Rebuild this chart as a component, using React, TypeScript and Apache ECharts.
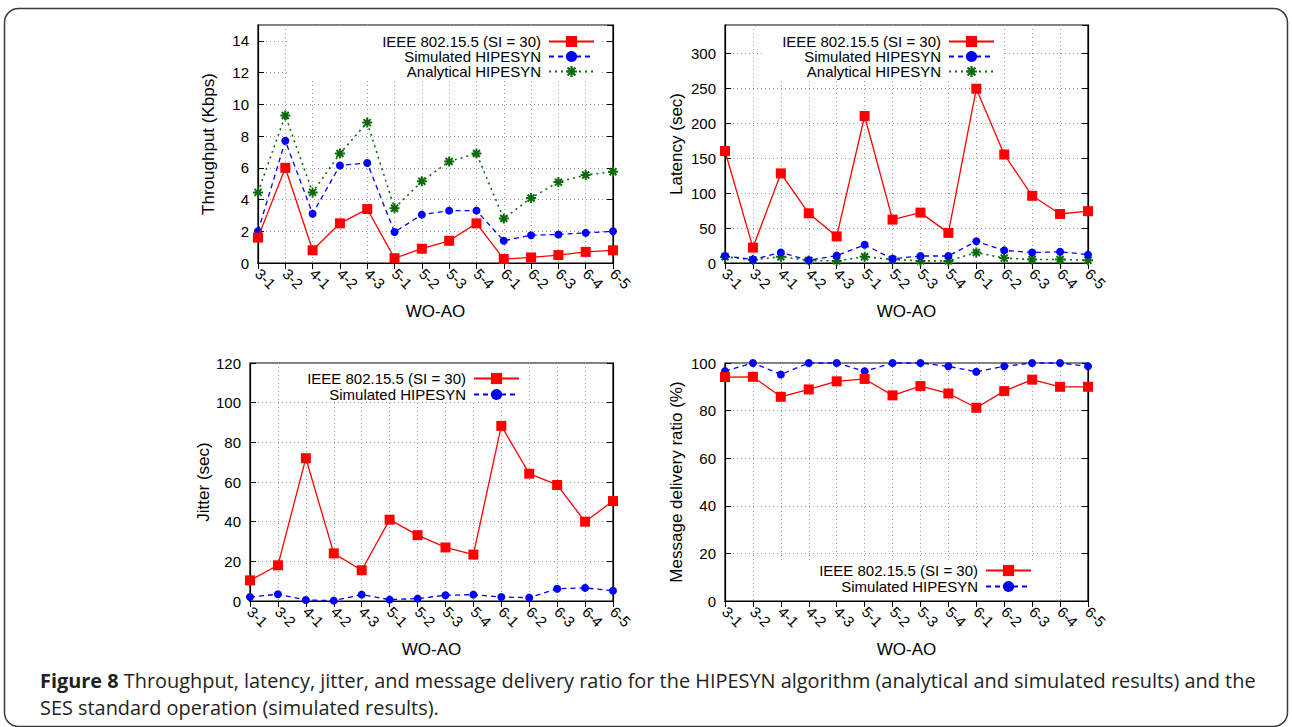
import React, { useEffect, useRef } from 'react';
import * as echarts from 'echarts';

const categories = ['3-1', '3-2', '4-1', '4-2', '4-3', '5-1', '5-2', '5-3', '5-4', '6-1', '6-2', '6-3', '6-4', '6-5'];

const throughputIEEE = [1.6, 6.0, 0.8, 2.5, 3.4, 0.3, 0.9, 1.4, 2.5, 0.25, 0.35, 0.5, 0.7, 0.8];
const throughputSim = [2.0, 7.7, 3.1, 6.15, 6.3, 1.95, 3.05, 3.3, 3.3, 1.4, 1.75, 1.8, 1.9, 2.0];
const throughputAna = [4.45, 9.3, 4.45, 6.9, 8.85, 3.45, 5.15, 6.4, 6.9, 2.8, 4.1, 5.1, 5.55, 5.75];

const latencyIEEE = [160, 22, 128, 71, 38, 210, 62, 72, 43, 249, 155, 96, 70, 74];
const latencySim = [10, 5, 15, 4, 10.5, 26, 6, 10, 10, 31, 18, 15, 16, 12];
const latencyAna = [9, 4.5, 9, 3.5, 3, 9, 5, 3, 3, 15, 7, 5, 5, 4];

const jitterIEEE = [10.4, 18, 72, 24, 15.5, 41, 33.2, 27, 23.4, 88.3, 64.2, 58.5, 40, 50.4];
const jitterSim = [2, 3.4, 0.5, 0.2, 3.2, 0.7, 1.2, 2.9, 3.2, 2, 1.7, 6.2, 6.6, 5.2];

const mdrIEEE = [94.1, 94.2, 85.8, 88.9, 92.3, 93.3, 86.4, 90.3, 87.2, 81.2, 88.2, 93, 90, 90];
const mdrSim = [96.6, 100, 95.2, 100, 100, 96.5, 100, 100, 98.6, 96.3, 98.6, 100, 100, 98.6];

const NAME_IEEE = 'IEEE 802.15.5 (SI = 30)';
const NAME_SIM = 'Simulated HIPESYN';
const NAME_ANA = 'Analytical HIPESYN';

const captionBold = 'Figure 8';
const captionLine1 = ' Throughput, latency, jitter, and message delivery ratio for the HIPESYN algorithm (analytical and simulated results) and the';
const captionLine2 = 'SES standard operation (simulated results).';

const FONT = 'Liberation Sans, Arial, sans-serif';
const CAP_FONT = 'Open Sans, sans-serif';
const ASTERISK =
  'path://M-1,-5L1,-5L1,5L-1,5Z M-5,-1L5,-1L5,1L-5,1Z M-2.8,-4.2L4.2,2.8L2.8,4.2L-4.2,-2.8Z M2.8,-4.2L4.2,-2.8L-2.8,4.2L-4.2,2.8Z';

type Panel = {
  left: number; right: number; top: number; bottom: number;
  max: number; interval: number; yName: string; nameGap: number;
  series: { name: string; data: number[] }[];
  legend: { rows: number[]; right: number };
  box: [number, number, number, number];
};

const panels: Panel[] = [
  {
    left: 258, right: 679, top: 25, bottom: 464, max: 15, interval: 2, yName: 'Throughput (Kbps)', nameGap: 41,
    series: [
      { name: NAME_IEEE, data: throughputIEEE },
      { name: NAME_SIM, data: throughputSim },
      { name: NAME_ANA, data: throughputAna },
    ],
    legend: { rows: [41, 56, 71], right: 697 },
    box: [290, 26, 312, 54],
  },
  {
    left: 725, right: 204, top: 25, bottom: 464, max: 340, interval: 50, yName: 'Latency (sec)', nameGap: 40,
    series: [
      { name: NAME_IEEE, data: latencyIEEE },
      { name: NAME_SIM, data: latencySim },
      { name: NAME_ANA, data: latencyAna },
    ],
    legend: { rows: [41, 56, 71], right: 1292 - 995 },
    box: [765, 26, 237, 54],
  },
  {
    left: 250, right: 679, top: 363, bottom: 126, max: 120, interval: 20, yName: 'Jitter (sec)', nameGap: 36,
    series: [
      { name: NAME_IEEE, data: jitterIEEE },
      { name: NAME_SIM, data: jitterSim },
    ],
    legend: { rows: [378, 394], right: 1292 - 520 },
    box: [290, 364, 236, 38],
  },
  {
    left: 725, right: 204, top: 363, bottom: 126, max: 100, interval: 20, yName: 'Message delivery ratio (%)', nameGap: 40,
    series: [
      { name: NAME_IEEE, data: mdrIEEE },
      { name: NAME_SIM, data: mdrSim },
    ],
    legend: { rows: [570, 586], right: 1292 - 1032 },
    box: [765, 560, 280, 40],
  },
];

const styleFor = (name: string) => {
  if (name === NAME_IEEE) {
    return { color: '#ff0000', symbol: 'rect', symbolSize: 10, lineStyle: { color: '#ff0000', width: 1.3, type: 'solid' } };
  }
  if (name === NAME_SIM) {
    return { color: '#0000ff', symbol: 'circle', symbolSize: 8, lineStyle: { color: '#0000ff', width: 1.3, type: [5, 4] } };
  }
  return { color: '#0b6b0b', symbol: ASTERISK, symbolSize: 10, lineStyle: { color: '#0b6b0b', width: 1.6, type: [2, 4] } };
};

export default function App() {
  const ref = useRef<HTMLDivElement>(null);
  useEffect(() => {
    document.body.style.margin = '0';
    if (!ref.current) return;
    const chart = echarts.init(ref.current, undefined, { renderer: 'svg' });

    const grid: any[] = [];
    const xAxis: any[] = [];
    const yAxis: any[] = [];
    const series: any[] = [];
    const legend: any[] = [];
    const graphic: any[] = [];

    panels.forEach((p, i) => {
      grid.push({ left: p.left, right: p.right, top: p.top, bottom: p.bottom, show: true, borderColor: '#000', borderWidth: 1.2, backgroundColor: 'transparent' });
      xAxis.push({
        type: 'category', gridIndex: i, data: categories, boundaryGap: false, position: 'bottom',
        name: 'WO-AO', nameLocation: 'middle', nameGap: 40,
        nameTextStyle: { fontSize: 17, color: '#000', fontFamily: FONT },
        axisLine: { lineStyle: { color: '#000', width: 1.2 } },
        axisTick: { show: true, inside: false, length: 6, alignWithLabel: true, lineStyle: { color: '#000' } },
        axisLabel: { rotate: -45, fontSize: 15, color: '#000', fontFamily: FONT, margin: 8, interval: 0 },
        splitLine: { show: true, lineStyle: { color: '#999', type: [1, 3], width: 1 } },
      });
      xAxis.push({
        type: 'category', gridIndex: i, data: categories, boundaryGap: false, position: 'top',
        axisLine: { lineStyle: { color: '#000', width: 1.2 } },
        axisTick: { show: true, inside: true, length: 5, lineStyle: { color: '#000' } },
        axisLabel: { show: false },
        splitLine: { show: false },
      });
      yAxis.push({
        type: 'value', gridIndex: i, min: 0, max: p.max, interval: p.interval, position: 'left',
        name: p.yName, nameLocation: 'middle', nameGap: p.nameGap,
        nameTextStyle: { fontSize: 17, color: '#000', fontFamily: FONT },
        axisLine: { show: true, lineStyle: { color: '#000', width: 1.2 } },
        axisTick: { show: true, inside: true, length: 6, lineStyle: { color: '#000' } },
        axisLabel: { fontSize: 15, color: '#000', fontFamily: FONT, margin: 9, showMaxLabel: p.max % p.interval === 0 },
        splitLine: { show: true, lineStyle: { color: '#999', type: [1, 3], width: 1 } },
      });
      yAxis.push({
        type: 'value', gridIndex: i, min: 0, max: p.max, interval: p.interval, position: 'right',
        axisLine: { show: true, lineStyle: { color: '#000', width: 1.2 } },
        axisTick: { show: true, inside: true, length: 6, lineStyle: { color: '#000' } },
        axisLabel: { show: false },
        splitLine: { show: false },
      });
      p.series.forEach((s, k) => {
        const st = styleFor(s.name);
        series.push({
          type: 'line', name: s.name, data: s.data, xAxisIndex: i * 2, yAxisIndex: i * 2,
          symbol: st.symbol, symbolSize: st.symbolSize, showAllSymbol: true,
          itemStyle: { color: st.color }, lineStyle: st.lineStyle, z: 3 + (p.series.length - k),
          clip: false,
        });
        legend.push({
          data: [s.name], orient: 'horizontal', align: 'right', right: p.legend.right,
          top: p.legend.rows[k] - 7, itemWidth: 45, itemHeight: 14, padding: 0,
          selectedMode: false,
          textStyle: { fontSize: 15, color: '#000', fontFamily: FONT, padding: [0, 3, 0, 0] },
        });
      });
      graphic.push({
        type: 'rect', z: 1, silent: true,
        shape: { x: p.box[0], y: p.box[1], width: p.box[2], height: p.box[3] },
        style: { fill: '#fff' },
      });
    });

    graphic.push({
      type: 'rect', z: 0, silent: true,
      shape: { x: 4.5, y: 8.5, width: 1283, height: 718, r: 14 },
      style: { fill: 'none', stroke: '#3a3a3a', lineWidth: 1.5 },
    });
    graphic.push({
      type: 'text', z: 10, x: 40, y: 680,
      style: {
        text: '{b|' + captionBold + '}' + captionLine1,
        fontSize: 19.9, fontFamily: CAP_FONT, fill: '#231f20', verticalAlign: 'middle',
        rich: { b: { fontWeight: 'bold', fontSize: 19.9, fontFamily: CAP_FONT, fill: '#231f20' } },
      },
    });
    graphic.push({
      type: 'text', z: 10, x: 40, y: 707,
      style: { text: captionLine2, fontSize: 19.9, fontFamily: CAP_FONT, fill: '#231f20', verticalAlign: 'middle' },
    });

    chart.setOption({ animation: false, backgroundColor: '#fff', grid, xAxis, yAxis, series, legend, graphic });
    return () => chart.dispose();
  }, []);
  return <div ref={ref} style={{ width: 1292, height: 727 }} />;
}
